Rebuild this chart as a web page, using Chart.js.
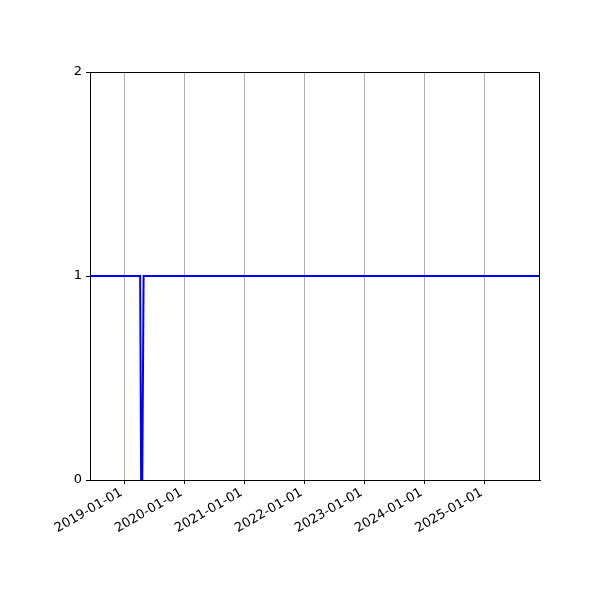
<!DOCTYPE html>
<html>
<head>
<meta charset="utf-8">
<script src="https://cdn.jsdelivr.net/npm/chart.js@4"></script>
<style>
  html, body { margin: 0; padding: 0; background: #fff; }
  #wrap { width: 600px; height: 600px; }
</style>
</head>
<body>
<div id="wrap"><canvas id="chart" width="600" height="600"></canvas></div>
<script>
// series: one reading per date, drops to 0 for about a week in April 2019
const dates = ['2018-06-06', '2019-04-07', '2019-04-13', '2019-04-20', '2019-04-28', '2025-12-03'];
const values = [1, 1, 0, 0, 1, 1];
const tickLabels = ['2019-01-01', '2020-01-01', '2021-01-01', '2022-01-01', '2023-01-01', '2024-01-01', '2025-01-01'];
const yTicks = [0, 1, 2];

const xMin = Date.parse('2018-06-06');
const xMax = Date.parse('2025-12-03');

const frame = {
  id: 'frame',
  afterDraw(chart) {
    const { ctx, chartArea: a } = chart;
    ctx.save();
    ctx.strokeStyle = '#000';
    ctx.lineWidth = 1;
    ctx.strokeRect(a.left + 0.5, a.top + 0.5, a.right - a.left - 1, a.bottom - a.top);
    ctx.restore();
  }
};

Chart.defaults.font.family = '"DejaVu Sans", sans-serif';
Chart.defaults.font.size = 13;
Chart.defaults.color = '#000';

new Chart(document.getElementById('chart'), {
  type: 'line',
  data: {
    datasets: [{
      data: dates.map((d, i) => ({ x: Date.parse(d), y: values[i] })),
      borderColor: '#0000ff',
      borderWidth: 2,
      pointRadius: 0,
      tension: 0,
      fill: false
    }]
  },
  options: {
    responsive: false,
    animation: false,
    layout: { padding: { left: 0, top: 72, right: 60, bottom: 0 } },
    plugins: { legend: { display: false }, tooltip: { enabled: false } },
    scales: {
      x: {
        type: 'linear',
        min: xMin,
        max: xMax,
        afterBuildTicks: s => { s.ticks = tickLabels.map(t => ({ value: Date.parse(t) })); },
        afterFit: s => { s.height = 120; },
        ticks: {
          autoSkip: false,
          minRotation: 30,
          maxRotation: 30,
          padding: 1,
          labelOffset: -3,
          callback: v => new Date(v).toISOString().slice(0, 10)
        },
        grid: { color: '#b0b0b0', lineWidth: 1, tickColor: '#000', tickLength: 4 },
        border: { color: '#000' }
      },
      y: {
        min: 0,
        max: 2,
        afterBuildTicks: s => { s.ticks = yTicks.map(v => ({ value: v })); },
        afterFit: s => { s.width = 90; },
        ticks: { padding: 4 },
        grid: { drawOnChartArea: false, tickColor: '#000', tickLength: 4 },
        border: { color: '#000' }
      }
    }
  },
  plugins: [frame]
});
</script>
</body>
</html>
